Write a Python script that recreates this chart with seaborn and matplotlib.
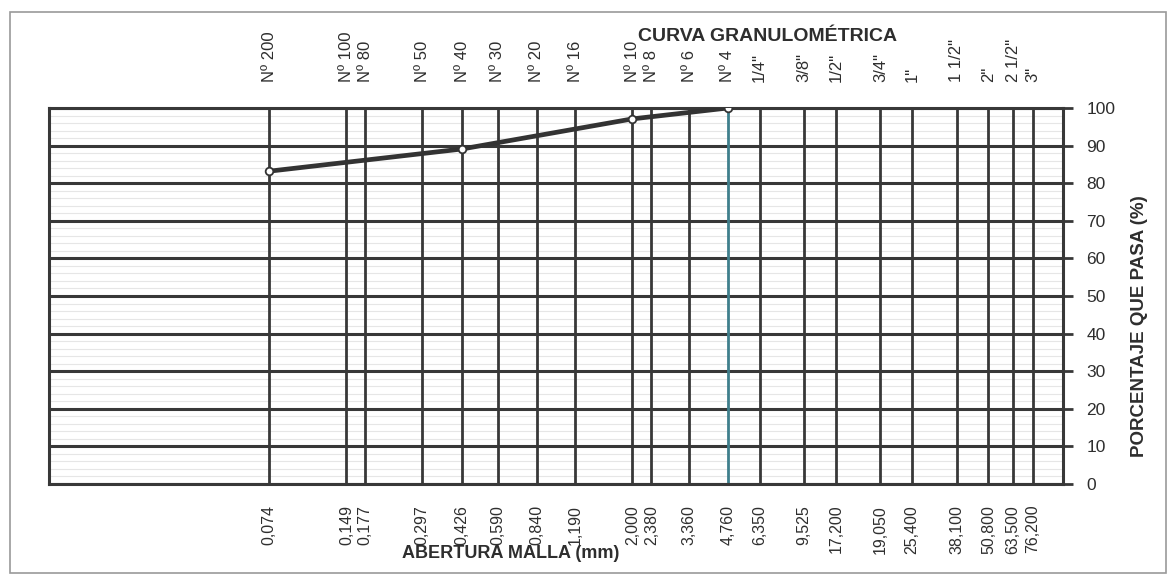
import matplotlib
matplotlib.use("Agg")
import matplotlib.pyplot as plt
from matplotlib.ticker import NullLocator, MultipleLocator
from matplotlib.patches import Rectangle
import pandas as pd
import seaborn as sns

# Sieve series: openings (mm), designations and printed opening labels
sieve_openings = [0.074, 0.149, 0.177, 0.297, 0.426, 0.590, 0.840, 1.190,
                  2.000, 2.380, 3.360, 4.760, 6.350, 9.525, 12.700, 19.050,
                  25.400, 38.100, 50.800, 63.500, 76.200]
sieve_names = ["Nº 200", "Nº 100", "Nº 80", "Nº 50", "Nº 40", "Nº 30",
               "Nº 20", "Nº 16", "Nº 10", "Nº 8", "Nº 6", "Nº 4",
               '1/4"', '3/8"', '1/2"', '3/4"', '1"', '1 1/2"', '2"',
               '2 1/2"', '3"']
opening_labels = ["0,074", "0,149", "0,177", "0,297", "0,426", "0,590",
                  "0,840", "1,190", "2,000", "2,380", "3,360", "4,760",
                  "6,350", "9,525", "17,200", "19,050", "25,400", "38,100",
                  "50,800", "63,500", "76,200"]

# Test results
test_openings = [0.074, 0.426, 2.000, 4.760]
percent_passing = [83.2, 89.1, 97.1, 100.0]

y_ticks = [0, 10, 20, 30, 40, 50, 60, 70, 80, 90, 100]

sns.set_style("white")
plt.rcParams["font.family"] = ["Liberation Sans", "DejaVu Sans"]

W, H = 1173, 579
fig = plt.figure(figsize=(W / 100, H / 100), dpi=100)
ax = fig.add_axes([49 / W, 1 - 484 / H, (1063 - 49) / W, (484 - 108) / H])

grid_col = "#383838"
text_col = "#2e2e2e"

df = pd.DataFrame({"abertura": test_openings, "pasa": percent_passing})
sns.lineplot(data=df, x="abertura", y="pasa", ax=ax, color="#333333",
             linewidth=3.4, marker="o", markersize=5.5,
             markerfacecolor="white", markeredgecolor="#333333",
             markeredgewidth=1.3, zorder=5)

ax.set_xscale("log")
ax.set_xlim(0.01, 100)
ax.set_ylim(0, 100)

# bottom axis: sieve openings
ax.set_xticks(sieve_openings)
ax.set_xticklabels(opening_labels, rotation=90, fontsize=11.5, color=text_col)
ax.xaxis.set_minor_locator(NullLocator())
ax.tick_params(axis="x", which="both", length=0, pad=15)

# right axis: percent passing
ax.yaxis.tick_right()
ax.set_yticks(y_ticks)
ax.yaxis.set_minor_locator(MultipleLocator(2))
ax.tick_params(axis="y", which="major", direction="out", length=7, width=2,
               color=grid_col, labelsize=12.5, labelcolor=text_col, pad=10)
ax.tick_params(axis="y", which="minor", length=0)

ax.grid(axis="x", which="major", color=grid_col, linewidth=2.0)
ax.grid(axis="y", which="major", color=grid_col, linewidth=2.2)
ax.grid(axis="y", which="minor", color="#e6e6e6", linewidth=0.8)
ax.set_axisbelow(True)
# vertical rules drawn over the faint horizontal ruling
ax.yaxis.set_zorder(0.4)
ax.xaxis.set_zorder(0.6)

# Nº 4 line printed in a bluish ink
for gl, x in zip(ax.get_xgridlines(), sieve_openings):
    if x == 4.760:
        gl.set_color("#3f7f8c")

for side in ax.spines.values():
    side.set_visible(True)
    side.set_color(grid_col)
    side.set_linewidth(2.2)

ax.set_xlabel("ABERTURA MALLA (mm)", fontsize=13, fontweight="bold",
              color=text_col)
ax.xaxis.set_label_coords(0.455, -0.163)
ax.set_ylabel("PORCENTAJE QUE PASA (%)", fontsize=13.5, fontweight="bold",
              color=text_col)
ax.yaxis.set_label_position("right")
ax.yaxis.set_label_coords(1.067, 0.42)

# top axis: sieve designations
top = ax.twiny()
top.set_xscale("log")
top.set_xlim(ax.get_xlim())
top.set_xticks(sieve_openings)
top.set_xticklabels(sieve_names, rotation=90, fontsize=12, color=text_col)
top.xaxis.set_minor_locator(NullLocator())
top.tick_params(axis="x", which="both", length=0, pad=19)
top.grid(False)
for side in top.spines.values():
    side.set_visible(False)

ax.text(0.709, 1.189, "CURVA GRANULOMÉTRICA", transform=ax.transAxes,
        ha="center", va="center", fontsize=14, fontweight="bold",
        color=text_col)

# thin frame around the whole sheet
fig.patches.append(Rectangle((10 / W, 1 - 573 / H), (1166 - 10) / W,
                             (573 - 12) / H, transform=fig.transFigure,
                             fill=False, edgecolor="#9a9a9a", linewidth=1.2))

fig.savefig("out.png", dpi=100, facecolor="white")
